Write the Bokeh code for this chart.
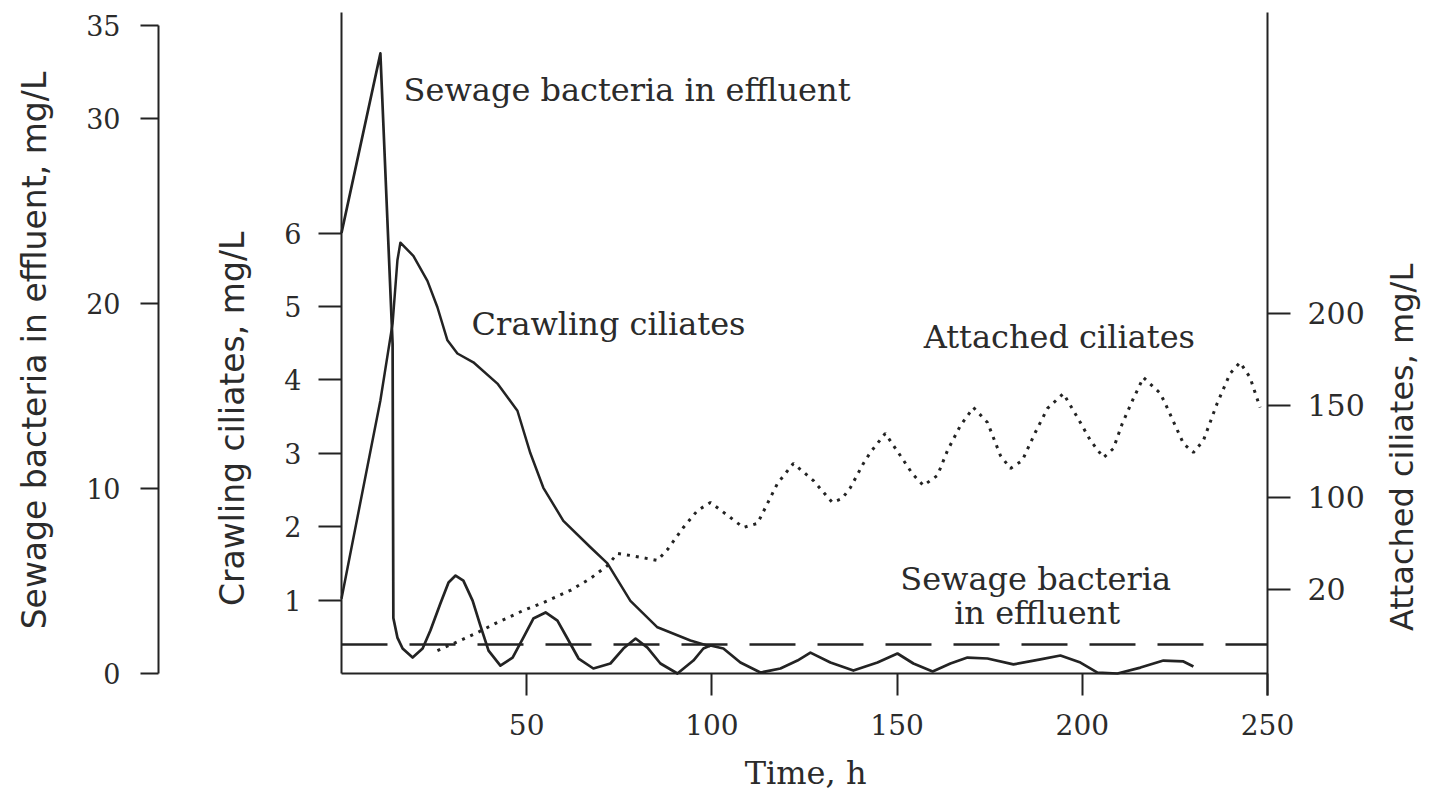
import math
from bokeh.plotting import figure
from bokeh.models import Range1d, LinearAxis, FixedTicker, Label
from bokeh.embed import file_html
from bokeh.resources import INLINE

# ---------------- data ----------------
time_ticks = [50, 100, 150, 200, 250]
sewage_ticks = [0, 10, 20, 30, 35]
crawling_ticks = [1, 2, 3, 4, 5, 6]
attached_ticks = [50, 100, 150, 200]
attached_tick_text = {50: "20"}  # printed as "20" on the original axis

sewage_time = [0, 10.5, 13.8, 14.0, 15.1, 16.5, 19.2, 21.9, 24.0, 26.7, 28.9, 30.8,
               32.9, 35.4, 37.5, 39.7, 42.9, 46.2, 49.1, 51.8, 55.1, 58.3, 61.0, 64.0,
               68.0, 72.6, 76.1, 79.4, 82.6, 86.1, 90.7, 95.0, 97.7, 99.6, 103.1, 107.7,
               113.1, 118.5, 123.1, 126.6, 132.0, 138.2, 144.7, 150.1, 154.4, 159.6, 164.4,
               169.0, 174.4, 181.4, 188.7, 194.1, 199.5, 204.1, 209.5, 215.7, 221.9, 227.3,
               230.0]
sewage_mg = [23.8, 33.5, 17.8, 3.0, 1.94, 1.35, 0.86, 1.35, 2.32, 3.78, 4.92, 5.29,
             5.02, 3.94, 2.59, 1.24, 0.43, 0.86, 1.94, 2.97, 3.30, 2.86, 1.89, 0.81,
             0.27, 0.54, 1.35, 1.89, 1.40, 0.54, 0.0, 0.70, 1.35, 1.51, 1.35, 0.59,
             0.05, 0.27, 0.70, 1.13, 0.59, 0.16, 0.59, 1.08, 0.54, 0.11, 0.54,
             0.86, 0.81, 0.49, 0.76, 0.97, 0.59, 0.05, 0.0, 0.32, 0.70, 0.65,
             0.38]

crawl_time = [0, 10.5, 13.8, 15.1, 15.9, 19.4, 23.2, 25.9, 28.6, 31.3, 35.6, 42.1,
              47.5, 51.0, 54.5, 59.9, 67.2, 71.8, 78.0, 85.3, 94.2, 99.6]
crawl_mg = [1.02, 3.72, 4.77, 5.63, 5.87, 5.69, 5.35, 4.99, 4.54, 4.36, 4.24, 3.95,
            3.58, 3.00, 2.53, 2.08, 1.72, 1.50, 0.99, 0.63, 0.45, 0.37]

attached_time = [25.9, 32.1, 36.7, 42.1, 49.1, 54.5, 61.8, 67.2, 71.8, 74.5, 78.0, 85.3,
                 88.0, 92.3, 96.1, 99.6, 105.0, 108.5, 112.3, 115.0, 117.7, 122.0, 127.4,
                 132.5, 135.2, 137.4, 140.9, 142.8, 146.8, 150.3, 154.1, 157.1, 160.9,
                 163.6, 167.1, 170.6, 174.4, 177.9, 180.6, 183.8, 187.3, 190.6, 194.9,
                 198.7, 202.2, 205.7, 208.4, 210.8, 213.8, 216.5, 221.1, 222.9, 227.3,
                 230.0, 232.7, 236.4, 239.9, 242.6, 245.3, 248.0]
attached_mg = [16.8, 22.3, 26.6, 32.1, 38.6, 42.9, 49.5, 56.0, 63.0, 69.6, 68.5, 65.8,
               71.7, 83.7, 92.9, 97.3, 89.1, 83.7, 85.9, 96.7, 107.6, 118.5, 109.2,
               97.3, 99.5, 105.4, 118.5, 124.5, 134.8, 124.5, 113.0, 106.5, 112.0,
               125.5, 139.1, 148.9, 140.8, 122.8, 115.8, 120.1, 135.3, 148.4, 156.5,
               143.5, 131.0, 121.7, 126.6, 140.2, 153.8, 165.2, 156.5, 148.9, 129.3,
               124.5, 131.0, 151.1, 167.4, 173.4, 165.2, 148.9]

limit_time = [0, 250]
limit_mg = [1.57, 1.57]

# ---------------- figure ----------------
INK = "#232323"
TXT = "#2b2b2b"
SERIF = "DejaVu Serif"
SANS = "DejaVu Sans"

# The frame fills the whole canvas; the axes are pinned at fixed data locations.
p = figure(width=1425, height=792, output_backend="svg", toolbar_location=None,
           x_range=Range1d(-92.06, 292.66), y_range=Range1d(-1.621, 9.169),
           x_axis_location=None, y_axis_location=None)
p.min_border = 0
p.min_border_left = 0
p.min_border_right = 0
p.min_border_top = 0
p.min_border_bottom = 0
p.outline_line_color = None
p.grid.visible = False
p.background_fill_color = "white"

p.extra_y_ranges = {"sewage": Range1d(-6.429, 36.359),
                    "attached": Range1d(-60.33, 370.11)}


def style(ax, tick_out, standoff, size, font=SERIF):
    ax.axis_line_color = INK
    ax.axis_line_width = 2
    ax.major_tick_line_color = INK
    ax.major_tick_line_width = 2
    ax.major_tick_in = 0
    ax.major_tick_out = tick_out
    ax.minor_tick_line_color = None
    ax.minor_tick_out = 0
    ax.major_label_standoff = standoff
    ax.major_label_text_font = font
    ax.major_label_text_font_size = size
    ax.major_label_text_color = TXT


# time axis
xa = LinearAxis(fixed_location=0, bounds=(0, 250), ticker=FixedTicker(ticks=time_ticks))
style(xa, 22, 18, "28px")
p.add_layout(xa, "below")

# crawling ciliates axis (inner left)
ya = LinearAxis(fixed_location=0, bounds=(0, 9.0), ticker=FixedTicker(ticks=crawling_ticks))
style(ya, 23, 17, "27px")
p.add_layout(ya, "left")

# sewage bacteria axis (outer left)
sa = LinearAxis(y_range_name="sewage", fixed_location=-49.4, bounds=(0, 35),
                ticker=FixedTicker(ticks=sewage_ticks))
style(sa, 18, 20, "27px")
p.add_layout(sa, "left")

# attached ciliates axis (right)
ra = LinearAxis(y_range_name="attached", fixed_location=250, bounds=(-7.6, 363.6),
                ticker=FixedTicker(ticks=attached_ticks),
                major_label_overrides=attached_tick_text)
style(ra, 23, 17, "30px")
p.add_layout(ra, "right")

# ---------------- series ----------------
p.line(limit_time, limit_mg, y_range_name="sewage", line_color=INK, line_width=2.4,
       line_dash="46 22")
p.line(sewage_time, sewage_mg, y_range_name="sewage", line_color=INK, line_width=2.7,
       line_join="round")
p.line(crawl_time, crawl_mg, line_color=INK, line_width=2.5, line_join="round")
p.line(attached_time, attached_mg, y_range_name="attached", line_color=INK,
       line_width=3, line_dash="3 6")

# ---------------- annotations ----------------
def note(x, y, text, size="32px"):
    p.add_layout(Label(x=x, y=y, text=text, text_font=SERIF, text_font_size=size,
                       text_color=TXT, text_align="center", text_baseline="alphabetic"))

note(77.1, 7.95, "Sewage bacteria in effluent")
note(72.1, 4.76, "Crawling ciliates")
note(193.8, 4.58, "Attached ciliates")
note(187.4, 1.29, "Sewage bacteria")
note(187.8, 0.83, "in effluent")

# x-axis title
p.add_layout(Label(x=125.3, y=-1.36, text="Time, h", text_font=SERIF,
                   text_font_size="32px", text_color=TXT, text_align="center",
                   text_baseline="alphabetic"))


def vtitle(x, y, text, size="33px"):
    p.add_layout(Label(x=x, y=y, text=text, text_font=SANS, text_font_size=size,
                       text_color=TXT, text_align="center", text_baseline="middle",
                       angle=math.pi / 2))

vtitle(-82.9, 4.40, "Sewage bacteria in effluent, mg/L")
vtitle(-29.4, 3.47, "Crawling ciliates, mg/L")
vtitle(286.3, 3.08, "Attached ciliates, mg/L", size="32px")

open("out.html", "w").write(file_html(p, INLINE))
